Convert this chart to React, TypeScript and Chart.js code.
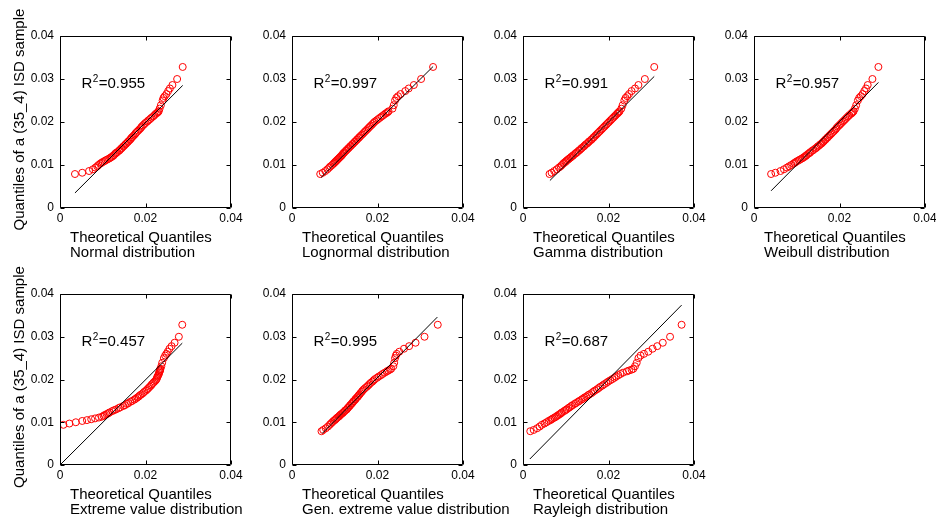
import React, { useEffect, useRef } from 'react';
import { Chart, registerables } from 'chart.js';

Chart.register(...registerables);

const FONT = '"Liberation Sans", Arial, Helvetica, sans-serif';

// Axis ticks and titles
const xTickValues = [0, 0.02, 0.04];
const yTickValues = [0, 0.01, 0.02, 0.03, 0.04];
const xAxisTitle = 'Theoretical Quantiles';
const yAxisTitle = 'Quantiles of a (35_4) ISD sample';

// Sorted sample quantiles (shared by every panel)
const sampleQuantiles = [
  0.0079, 0.0082, 0.0086, 0.0090, 0.0094, 0.0097, 0.0100, 0.0103, 0.0105, 0.0107,
  0.0109, 0.0111, 0.0113, 0.0115, 0.0117, 0.0119, 0.0121, 0.0123, 0.0126, 0.0128,
  0.0130, 0.0133, 0.0135, 0.0138, 0.0140, 0.0143, 0.0145, 0.0148, 0.0150, 0.0153,
  0.0155, 0.0158, 0.0160, 0.0163, 0.0165, 0.0168, 0.0171, 0.0174, 0.0177, 0.0180,
  0.0183, 0.0186, 0.0189, 0.0192, 0.0195, 0.0198, 0.0201, 0.0204, 0.0207, 0.0210,
  0.0213, 0.0216, 0.0219, 0.0221, 0.0223, 0.0225,
  0.0231, 0.0239, 0.0250, 0.0256, 0.0260, 0.0265, 0.0272, 0.0278, 0.0286, 0.0300, 0.0328,
];

// Theoretical quantiles per distribution
const normalX = [
  0.0035, 0.0052, 0.0068, 0.0077, 0.0083, 0.0087, 0.0090, 0.0094, 0.0097, 0.0100,
  0.0104, 0.0107, 0.0111, 0.0115, 0.0118, 0.0121, 0.0124, 0.0126, 0.0129, 0.0131,
  0.0134, 0.0138, 0.0140, 0.0143, 0.0145, 0.0148, 0.0150, 0.0153, 0.0155, 0.0158,
  0.0160, 0.0163, 0.0165, 0.0167, 0.0169, 0.0172, 0.0175, 0.0177, 0.0180, 0.0183,
  0.0186, 0.0189, 0.0191, 0.0194, 0.0197, 0.0200, 0.0204, 0.0207, 0.0211, 0.0214,
  0.0218, 0.0221, 0.0224, 0.0227, 0.0229, 0.0231,
  0.0233, 0.0236, 0.0240, 0.0242, 0.0245, 0.0249, 0.0253, 0.0257, 0.0263, 0.0274, 0.0287,
];
const lognormalX = [
  0.0066, 0.0072, 0.0078, 0.0083, 0.0087, 0.0090, 0.0094, 0.0097, 0.0099, 0.0101,
  0.0103, 0.0105, 0.0107, 0.0109, 0.0111, 0.0113, 0.0115, 0.0117, 0.0119, 0.0121,
  0.0123, 0.0126, 0.0128, 0.0131, 0.0133, 0.0136, 0.0138, 0.0141, 0.0143, 0.0146,
  0.0148, 0.0151, 0.0153, 0.0156, 0.0158, 0.0161, 0.0164, 0.0167, 0.0170, 0.0173,
  0.0176, 0.0179, 0.0182, 0.0185, 0.0188, 0.0191, 0.0194, 0.0198, 0.0202, 0.0206,
  0.0210, 0.0214, 0.0218, 0.0221, 0.0224, 0.0226,
  0.0235, 0.0238, 0.0241, 0.0244, 0.0248, 0.0254, 0.0265, 0.0273, 0.0285, 0.0302, 0.0330,
];
const gammaX = [
  0.0062, 0.0067, 0.0073, 0.0079, 0.0084, 0.0088, 0.0091, 0.0094, 0.0096, 0.0099,
  0.0101, 0.0103, 0.0106, 0.0108, 0.0111, 0.0113, 0.0116, 0.0118, 0.0122, 0.0124,
  0.0127, 0.0130, 0.0133, 0.0136, 0.0138, 0.0142, 0.0144, 0.0147, 0.0150, 0.0153,
  0.0155, 0.0159, 0.0161, 0.0164, 0.0166, 0.0169, 0.0172, 0.0175, 0.0178, 0.0181,
  0.0184, 0.0187, 0.0190, 0.0193, 0.0196, 0.0199, 0.0202, 0.0205, 0.0208, 0.0211,
  0.0214, 0.0217, 0.0220, 0.0222, 0.0224, 0.0226,
  0.0230, 0.0233, 0.0237, 0.0240, 0.0244, 0.0248, 0.0254, 0.0262, 0.0270, 0.0285, 0.0307,
];
const weibullX = [
  0.0040, 0.0050, 0.0062, 0.0070, 0.0077, 0.0082, 0.0087, 0.0092, 0.0095, 0.0098,
  0.0101, 0.0105, 0.0108, 0.0112, 0.0115, 0.0118, 0.0121, 0.0123, 0.0127, 0.0130,
  0.0132, 0.0136, 0.0139, 0.0143, 0.0146, 0.0149, 0.0152, 0.0155, 0.0158, 0.0161,
  0.0163, 0.0166, 0.0168, 0.0171, 0.0173, 0.0176, 0.0179, 0.0182, 0.0185, 0.0188,
  0.0191, 0.0193, 0.0196, 0.0199, 0.0202, 0.0205, 0.0208, 0.0211, 0.0214, 0.0217,
  0.0220, 0.0223, 0.0227, 0.0229, 0.0231, 0.0233,
  0.0236, 0.0239, 0.0243, 0.0246, 0.0250, 0.0254, 0.0258, 0.0262, 0.0266, 0.0277, 0.0291,
];
const extremeValueX = [
  -0.0060, -0.0040, -0.0022, -0.0006, 0.0008, 0.0022, 0.0037, 0.0052, 0.0063, 0.0073,
  0.0082, 0.0091, 0.0098, 0.0102, 0.0105, 0.0109, 0.0113, 0.0116, 0.0122, 0.0126,
  0.0131, 0.0137, 0.0141, 0.0148, 0.0152, 0.0157, 0.0160, 0.0165, 0.0169, 0.0174,
  0.0177, 0.0181, 0.0184, 0.0187, 0.0190, 0.0194, 0.0197, 0.0201, 0.0204, 0.0207,
  0.0210, 0.0213, 0.0215, 0.0218, 0.0221, 0.0224, 0.0226, 0.0227, 0.0228, 0.0230,
  0.0231, 0.0232, 0.0233, 0.0234, 0.0234, 0.0235,
  0.0237, 0.0239, 0.0243, 0.0246, 0.0249, 0.0252, 0.0256, 0.0261, 0.0268, 0.0278, 0.0286,
];
const genExtremeX = [
  0.0069, 0.0073, 0.0079, 0.0084, 0.0088, 0.0091, 0.0094, 0.0097, 0.0100, 0.0102,
  0.0104, 0.0106, 0.0109, 0.0111, 0.0113, 0.0115, 0.0118, 0.0120, 0.0123, 0.0125,
  0.0128, 0.0130, 0.0132, 0.0135, 0.0136, 0.0139, 0.0141, 0.0143, 0.0145, 0.0148,
  0.0149, 0.0152, 0.0154, 0.0156, 0.0158, 0.0160, 0.0163, 0.0165, 0.0168, 0.0171,
  0.0175, 0.0178, 0.0181, 0.0184, 0.0188, 0.0191, 0.0194, 0.0199, 0.0203, 0.0208,
  0.0212, 0.0217, 0.0222, 0.0225, 0.0229, 0.0232,
  0.0237, 0.0239, 0.0241, 0.0243, 0.0245, 0.0251, 0.0262, 0.0274, 0.0289, 0.0310, 0.0341,
];
const rayleighX = [
  0.0017, 0.0025, 0.0033, 0.0039, 0.0044, 0.0050, 0.0055, 0.0060, 0.0064, 0.0067,
  0.0070, 0.0074, 0.0077, 0.0080, 0.0083, 0.0086, 0.0089, 0.0091, 0.0096, 0.0099,
  0.0102, 0.0106, 0.0109, 0.0113, 0.0116, 0.0121, 0.0124, 0.0129, 0.0132, 0.0137,
  0.0140, 0.0144, 0.0148, 0.0152, 0.0155, 0.0160, 0.0164, 0.0168, 0.0173, 0.0177,
  0.0181, 0.0186, 0.0190, 0.0195, 0.0199, 0.0204, 0.0209, 0.0214, 0.0218, 0.0223,
  0.0228, 0.0234, 0.0243, 0.0248, 0.0254, 0.0258,
  0.0262, 0.0266, 0.0270, 0.0275, 0.0283, 0.0293, 0.0303, 0.0314, 0.0327, 0.0344, 0.0371,
];

// Reference (fit) line end points
const normalLineX = [0.0035, 0.0287];
const normalLineY = [0.0035, 0.0285];
const lognormalLineX = [0.0068, 0.0330];
const lognormalLineY = [0.0071, 0.0329];
const gammaLineX = [0.0063, 0.0307];
const gammaLineY = [0.0064, 0.0306];
const weibullLineX = [0.0040, 0.0291];
const weibullLineY = [0.0040, 0.0292];
const extremeValueLineX = [0.0, 0.0286];
const extremeValueLineY = [0.0, 0.0285];
const genExtremeLineX = [0.0071, 0.0340];
const genExtremeLineY = [0.0074, 0.0346];
const rayleighLineX = [0.0016, 0.0371];
const rayleighLineY = [0.0014, 0.0374];

const distributionNames = [
  'Normal distribution',
  'Lognormal distribution',
  'Gamma distribution',
  'Weibull distribution',
  'Extreme value distribution',
  'Gen. extreme value distribution',
  'Rayleigh distribution',
];
const r2Values = ['0.955', '0.997', '0.991', '0.957', '0.457', '0.995', '0.687'];

type Panel = { name: string; r2: string; xs: number[]; lineX: number[]; lineY: number[] };

const panels: Panel[] = [
  { name: distributionNames[0], r2: r2Values[0], xs: normalX, lineX: normalLineX, lineY: normalLineY },
  { name: distributionNames[1], r2: r2Values[1], xs: lognormalX, lineX: lognormalLineX, lineY: lognormalLineY },
  { name: distributionNames[2], r2: r2Values[2], xs: gammaX, lineX: gammaLineX, lineY: gammaLineY },
  { name: distributionNames[3], r2: r2Values[3], xs: weibullX, lineX: weibullLineX, lineY: weibullLineY },
  { name: distributionNames[4], r2: r2Values[4], xs: extremeValueX, lineX: extremeValueLineX, lineY: extremeValueLineY },
  { name: distributionNames[5], r2: r2Values[5], xs: genExtremeX, lineX: genExtremeLineX, lineY: genExtremeLineY },
  { name: distributionNames[6], r2: r2Values[6], xs: rayleighX, lineX: rayleighLineX, lineY: rayleighLineY },
];

// Layout (pixels)
const COL_LEFT = [60, 292, 523, 754];
const ROW_TOP = [36, 294];
const BOX_W = 171;
const BOX_H = [172, 171];
const PAD_L = 60;
const PAD_R = 64;
const PAD_T = 34;
const PAD_B = 56;

function QQPanel({ panel, left, top, h, showY }: { panel: Panel; left: number; top: number; h: number; showY: boolean }) {
  const ref = useRef<HTMLCanvasElement | null>(null);
  const cw = PAD_L + BOX_W + PAD_R;
  const ch = PAD_T + h + PAD_B;

  useEffect(() => {
    const canvas = ref.current;
    if (!canvas) return;

    const decor = {
      id: 'qqDecor',
      afterDatasetsDraw(chart: any) {
        const { ctx, chartArea: a, scales } = chart;
        const xs = scales.x;
        const ys = scales.y;
        ctx.save();
        ctx.strokeStyle = '#000';
        ctx.lineWidth = 1;
        const L = Math.round(a.left) + 0.5;
        const R = Math.round(a.right) - 0.5;
        const T = Math.round(a.top) + 0.5;
        const B = Math.round(a.bottom) - 0.5;
        ctx.beginPath();
        ctx.rect(L, T, R - L, B - T);
        const tl = 4;
        for (const v of xTickValues) {
          const px = Math.round(xs.getPixelForValue(v)) + 0.5;
          ctx.moveTo(px, B);
          ctx.lineTo(px, B - tl);
          ctx.moveTo(px, T);
          ctx.lineTo(px, T + tl);
        }
        for (const v of yTickValues) {
          const py = Math.round(ys.getPixelForValue(v)) + 0.5;
          ctx.moveTo(L, py);
          ctx.lineTo(L + tl, py);
          ctx.moveTo(R, py);
          ctx.lineTo(R - tl, py);
        }
        ctx.stroke();

        ctx.fillStyle = '#000';
        ctx.textAlign = 'left';
        ctx.textBaseline = 'alphabetic';
        ctx.font = `15px ${FONT}`;
        const lx = a.left + 10;
        ctx.fillText(xAxisTitle, lx, a.bottom + 33.5);
        ctx.fillText(panel.name, lx, a.bottom + 48.5);

        const rx = xs.getPixelForValue(0.005);
        const ry = ys.getPixelForValue(0.03) + 9;
        ctx.fillText('R', rx, ry);
        const wR = ctx.measureText('R').width;
        ctx.font = `10px ${FONT}`;
        ctx.fillText('2', rx + wR + 0.5, ry - 6);
        const w2 = ctx.measureText('2').width;
        ctx.font = `15px ${FONT}`;
        ctx.fillText('=' + panel.r2, rx + wR + 0.5 + w2 + 0.5, ry);

        if (showY) {
          ctx.save();
          ctx.translate(a.left - 36.5, (a.top + a.bottom) / 2 - 2.5);
          ctx.rotate(-Math.PI / 2);
          ctx.textAlign = 'center';
          ctx.fillText(yAxisTitle, 0, 0);
          ctx.restore();
        }
        ctx.restore();
      },
    };

    const chart = new Chart(canvas, {
      type: 'scatter',
      data: {
        datasets: [
          {
            data: panel.lineX.map((x, i) => ({ x, y: panel.lineY[i] })),
            showLine: true,
            borderColor: '#000000',
            borderWidth: 1,
            pointRadius: 0,
            pointHoverRadius: 0,
            fill: false,
          },
          {
            data: panel.xs.map((x, i) => ({ x, y: sampleQuantiles[i] })),
            showLine: false,
            pointStyle: 'circle',
            pointRadius: 3.5,
            pointHoverRadius: 3.5,
            pointBorderWidth: 1,
            borderColor: '#ff0000',
            pointBorderColor: '#ff0000',
            backgroundColor: 'rgba(0,0,0,0)',
            pointBackgroundColor: 'rgba(0,0,0,0)',
          },
        ],
      },
      options: {
        responsive: false,
        animation: false,
        devicePixelRatio: 1,
        events: [],
        layout: { padding: { left: 0, top: PAD_T, right: PAD_R, bottom: 0 } },
        plugins: { legend: { display: false }, tooltip: { enabled: false } },
        scales: {
          x: {
            type: 'linear',
            position: 'bottom',
            min: 0,
            max: 0.04,
            grid: { display: false, drawTicks: false },
            border: { display: false },
            afterBuildTicks: (s: any) => {
              s.ticks = xTickValues.map((v) => ({ value: v }));
            },
            afterFit: (s: any) => {
              s.height = PAD_B;
            },
            ticks: {
              color: '#000',
              font: { family: FONT, size: 12 },
              padding: 3,
              maxRotation: 0,
              autoSkip: false,
              callback: (v: any) => String(v),
            },
          },
          y: {
            type: 'linear',
            position: 'left',
            min: 0,
            max: 0.04,
            grid: { display: false, drawTicks: false },
            border: { display: false },
            afterBuildTicks: (s: any) => {
              s.ticks = yTickValues.map((v) => ({ value: v }));
            },
            afterFit: (s: any) => {
              s.width = PAD_L;
            },
            ticks: {
              color: '#000',
              font: { family: FONT, size: 12 },
              padding: 6,
              autoSkip: false,
              callback: (v: any) => String(v),
            },
          },
        },
      },
      plugins: [decor],
    } as any);

    return () => chart.destroy();
  }, [panel, showY, h]);

  return (
    <canvas
      ref={ref}
      width={cw}
      height={ch}
      style={{ position: 'absolute', left: left - PAD_L, top: top - PAD_T, width: cw, height: ch }}
    />
  );
}

export default function App() {
  return (
    <div style={{ position: 'fixed', left: 0, top: 0, width: 936, height: 523, background: '#ffffff', overflow: 'hidden' }}>
      {panels.map((p, i) => {
        const row = i < 4 ? 0 : 1;
        const col = i < 4 ? i : i - 4;
        return (
          <QQPanel
            key={p.name}
            panel={p}
            left={COL_LEFT[col]}
            top={ROW_TOP[row]}
            h={BOX_H[row]}
            showY={col === 0}
          />
        );
      })}
    </div>
  );
}
